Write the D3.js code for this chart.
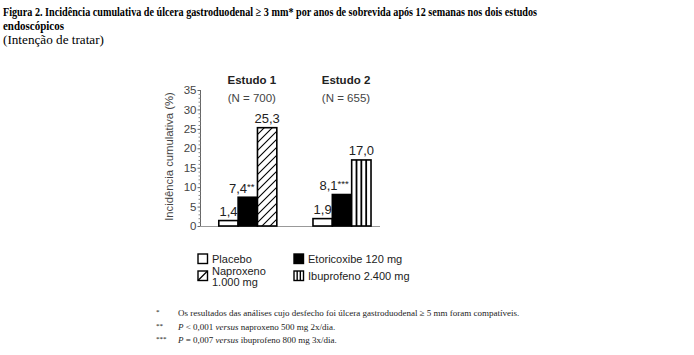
<!DOCTYPE html>
<html><head><meta charset="utf-8">
<script src="https://cdn.jsdelivr.net/npm/d3@7"></script>
<style>body{margin:0;background:#fff}svg{display:block}</style>
</head><body>
<script>
const studies = ["Estudo 1", "Estudo 2"];
const studyN = ["(N = 700)", "(N = 655)"];
const series = ["Placebo", "Etoricoxibe 120 mg", "Comparador"];
const placebo = [1.4, 1.9];
const etoricoxib = [7.4, 8.1];
const comparator = [25.3, 17.0];
const comparatorName = ["Naproxeno 1.000 mg", "Ibuprofeno 2.400 mg"];
const valueLabels = [["1,4", "7,4", "25,3"], ["1,9", "8,1", "17,0"]];
const valueStars = [["", "**", ""], ["", "***", ""]];
const yTicks = [0, 5, 10, 15, 20, 25, 30, 35];
const titleLines = [
  "Figura 2. Incidência cumulativa de úlcera gastroduodenal ≥ 3 mm* por anos de sobrevida após 12 semanas nos dois estudos",
  "endoscópicos"
];
const subtitle = "(Intenção de tratar)";
const footStars = ["*", "**", "***"];
const footnotes = [
  [{t:"Os resultados das análises cujo desfecho foi úlcera gastroduodenal ≥ 5 mm foram compatíveis."}],
  [{t:"P", i:true}, {t:" < 0,001 "}, {t:"versus", i:true}, {t:" naproxeno 500 mg 2x/dia."}],
  [{t:"P", i:true}, {t:" = 0,007 "}, {t:"versus", i:true}, {t:" ibuprofeno 800 mg 3x/dia."}]
];

const W = 694, H = 355;
const svg = d3.select("body").append("svg").attr("width", W).attr("height", H);
svg.append("rect").attr("width", W).attr("height", H).attr("fill", "#fff");

const defs = svg.append("defs");
const hatch = defs.append("pattern").attr("id", "hatch").attr("patternUnits", "userSpaceOnUse")
  .attr("width", 8).attr("height", 8);
hatch.append("rect").attr("width", 8).attr("height", 8).attr("fill", "#fff");
hatch.append("path").attr("d", "M-2,10 L10,-2 M-2,2 L2,-2 M6,10 L10,6").attr("stroke", "#000").attr("stroke-width", 1.1);

const sans = "'Liberation Sans', Arial, sans-serif";
const serif = "'Liberation Serif', 'Times New Roman', serif";

// Title
svg.append("text").attr("x", 3).attr("y", 16).attr("font-family", serif).attr("font-weight", "bold")
  .attr("font-size", 12.5).attr("textLength", 534).attr("lengthAdjust", "spacingAndGlyphs").text(titleLines[0]);
svg.append("text").attr("x", 3).attr("y", 30).attr("font-family", serif).attr("font-weight", "bold")
  .attr("font-size", 12.5).attr("textLength", 61).attr("lengthAdjust", "spacingAndGlyphs").text(titleLines[1]);
svg.append("text").attr("x", 3).attr("y", 44).attr("font-family", serif)
  .attr("font-size", 12.5).attr("textLength", 101).attr("lengthAdjust", "spacingAndGlyphs").text(subtitle);

// Scales
const y = d3.scaleLinear().domain([0, 35]).range([226, 90]);
const x0 = d3.scaleBand().domain(studies).range([200.7, 389.1]).paddingInner(0.384).paddingOuter(0.192);
const x1 = d3.scaleBand().domain(series).range([0, x0.bandwidth()]);

// Axis
const axisG = svg.append("g").attr("transform", "translate(200.5,0)");
const yAxis = d3.axisLeft(y).tickValues(yTicks).tickSize(3).tickPadding(1).tickFormat(d3.format("d"));
axisG.call(yAxis);
axisG.select(".domain").attr("stroke", "#666").attr("d", `M0,${y(0)}V${y(35)}`);
axisG.selectAll(".tick line").attr("stroke", "#666");
axisG.selectAll(".tick text").attr("font-family", sans).attr("font-size", 11.5).attr("fill", "#444");
axisG.selectAll(".minor").data(d3.range(0, 36).filter(v => v % 5)).enter().append("line")
  .attr("x1", -2).attr("x2", 0).attr("y1", d => y(d) + 0.5).attr("y2", d => y(d) + 0.5).attr("stroke", "#888");

// baseline
svg.append("line").attr("x1", 200).attr("x2", 380).attr("y1", y(0) + 0.5).attr("y2", y(0) + 0.5)
  .attr("stroke", "#999").attr("stroke-width", 1);

svg.append("text").attr("transform", `translate(173,156.5) rotate(-90)`).attr("text-anchor", "middle")
  .attr("font-family", sans).attr("font-size", 11.3).attr("fill", "#444").text("Incidência cumulativa (%)");

// Study headers
studies.forEach((s, i) => {
  const cx = x0(s) + x0.bandwidth() / 2 + 4;
  svg.append("text").attr("x", cx).attr("y", 84).attr("text-anchor", "middle").attr("font-family", sans)
    .attr("font-weight", "bold").attr("font-size", 11.5).attr("fill", "#222").text(s);
  svg.append("text").attr("x", cx).attr("y", 102).attr("text-anchor", "middle").attr("font-family", sans)
    .attr("font-size", 11.5).attr("fill", "#444").text(studyN[i]);
});

// Bars
const values = [placebo, etoricoxib, comparator];
studies.forEach((s, i) => {
  series.forEach((ser, j) => {
    const v = values[j][i];
    const bx = x0(s) + x1(ser), bw = x1.bandwidth();
    const by = y(v), bh = y(0) - y(v);
    const g = svg.append("g");
    let fill = "#fff";
    if (j === 1) fill = "#000";
    if (j === 2 && i === 0) fill = "url(#hatch)";
    g.append("rect").attr("x", bx).attr("y", by).attr("width", bw).attr("height", bh)
      .attr("fill", fill).attr("stroke", "#000").attr("stroke-width", 1.6);
    if (j === 2 && i === 1) {
      [1, 2, 3].forEach(k => {
        g.append("line").attr("x1", bx + k * bw / 4).attr("x2", bx + k * bw / 4)
          .attr("y1", by).attr("y2", y(0)).attr("stroke", "#000").attr("stroke-width", 1.8);
      });
    }
    const t = svg.append("text").attr("y", by - 4.5).attr("font-family", sans).attr("font-size", 13).attr("fill", "#222");
    if (valueStars[i][j]) {
      t.attr("x", bx + bw - 3).attr("text-anchor", "end");
      t.append("tspan").text(valueLabels[i][j]);
      t.append("tspan").attr("font-size", 9.5).attr("dy", -3).text(valueStars[i][j]);
    } else {
      t.attr("x", bx + bw / 2).attr("text-anchor", "middle").text(valueLabels[i][j]);
    }
  });
});

// Legend
const legend = [
  {x: 198, y: 254, label: ["Placebo"], type: "white"},
  {x: 294, y: 254, label: ["Etoricoxibe 120 mg"], type: "black"},
  {x: 198, y: 271, label: comparatorName[0].split(/ (?=\d)/), type: "hatch"},
  {x: 294, y: 271, label: [comparatorName[1]], type: "stripes"}
];
legend.forEach(l => {
  const g = svg.append("g");
  const s = 9.5;
  g.append("rect").attr("x", l.x).attr("y", l.y).attr("width", s).attr("height", s)
    .attr("fill", l.type === "black" ? "#000" : "#fff").attr("stroke", "#000").attr("stroke-width", 1.4);
  if (l.type === "hatch") g.append("line").attr("x1", l.x).attr("y1", l.y + s).attr("x2", l.x + s).attr("y2", l.y)
    .attr("stroke", "#000").attr("stroke-width", 1.2);
  if (l.type === "stripes") [1, 2].forEach(k => g.append("line").attr("x1", l.x + k * s / 3).attr("x2", l.x + k * s / 3)
    .attr("y1", l.y).attr("y2", l.y + s).attr("stroke", "#000").attr("stroke-width", 1.4));
  const t = g.append("text").attr("font-family", sans).attr("font-size", 11).attr("fill", "#222");
  if (l.label.length === 1) {
    t.attr("x", l.x + 14).attr("y", l.y + 9).text(l.label[0]);
  } else {
    t.append("tspan").attr("x", l.x + 14).attr("y", l.y + 4).text(l.label[0]);
    t.append("tspan").attr("x", l.x + 14).attr("y", l.y + 15).text(l.label[1]);
  }
});

// Footnotes
footnotes.forEach((f, i) => {
  const yy = 316 + i * 13.5;
  svg.append("text").attr("x", 156).attr("y", yy - 2).attr("font-family", serif).attr("font-size", 7).text(footStars[i]);
  const t = svg.append("text").attr("x", 178).attr("y", yy).attr("font-family", serif).attr("font-size", 9).attr("fill", "#222");
  f.forEach(p => t.append("tspan").attr("font-style", p.i ? "italic" : "normal").text(p.t));
});
</script>
</body></html>
